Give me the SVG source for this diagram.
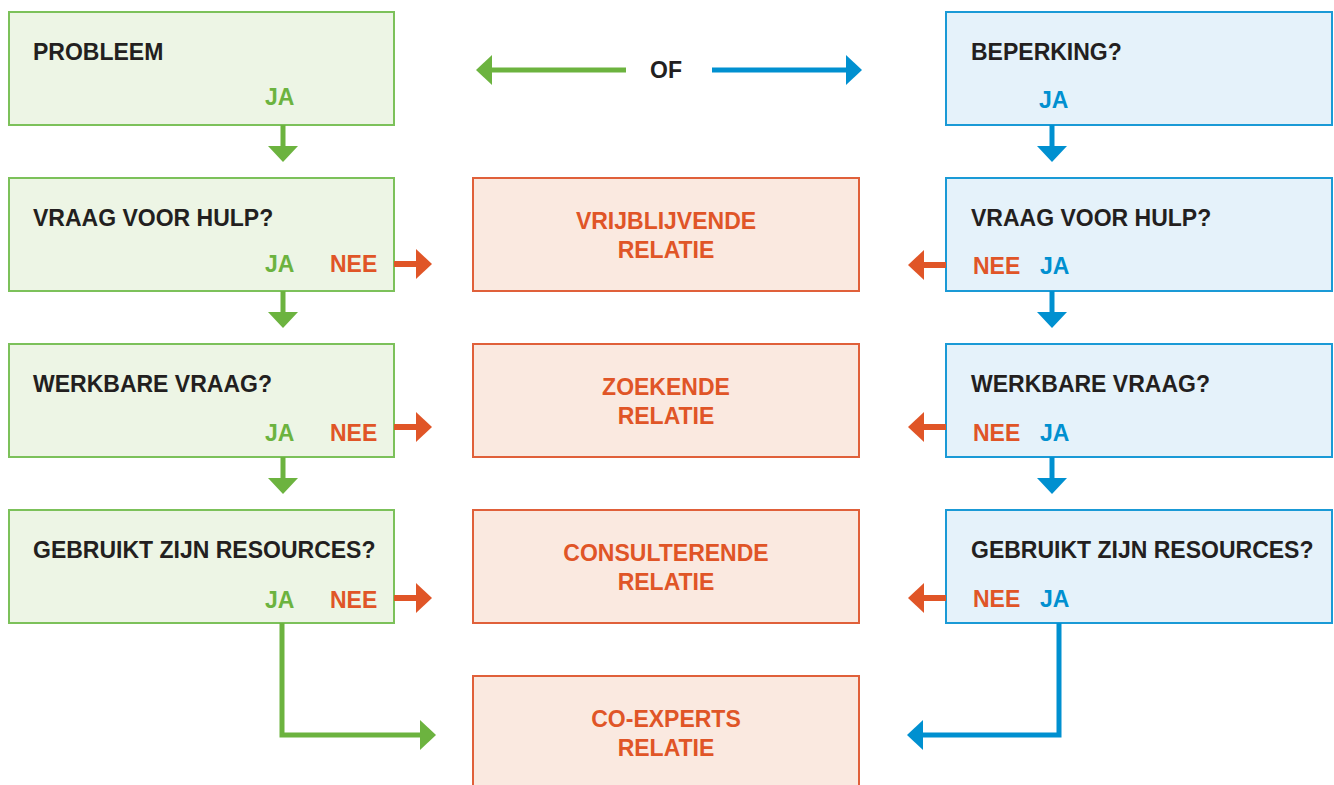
<svg xmlns="http://www.w3.org/2000/svg" width="1334" height="785" viewBox="0 0 1334 785">
<style>
text{font-family:"Liberation Sans",Arial,sans-serif;font-weight:bold;font-size:23px}
.g rect{fill:#edf5e5;stroke:#7cc15a;stroke-width:2}
.b rect{fill:#e5f2fa;stroke:#1a9ad6;stroke-width:2}
.o rect{fill:#fae9e0;stroke:#e0603a;stroke-width:2}
.t{fill:#231f20}
.gt{fill:#6cb33f}
.bt{fill:#0090d0}
.ot{fill:#e05527;text-anchor:middle}
.ont{fill:#e05527}
.gl{stroke:#6cb33f;stroke-width:5;fill:none}
.bl{stroke:#0090d0;stroke-width:5;fill:none}
.ol{stroke:#e05527;stroke-width:6;fill:none}
.gh{fill:#6cb33f}.bh{fill:#0090d0}.oh{fill:#e05527}
</style>
<g id="n-probleem" class="g"><rect x="9" y="12" width="385" height="113"/><text class="t" x="33" y="60">PROBLEEM</text><text class="gt" x="265" y="105">JA</text></g>
<g id="n-hulp-l" class="g"><rect x="9" y="178" width="385" height="113"/><text class="t" x="33" y="226">VRAAG VOOR HULP?</text><text class="gt" x="265" y="272">JA</text><text class="ont" x="330" y="272">NEE</text></g>
<g id="n-werk-l" class="g"><rect x="9" y="344" width="385" height="113"/><text class="t" x="33" y="392">WERKBARE VRAAG?</text><text class="gt" x="265" y="441">JA</text><text class="ont" x="330" y="441">NEE</text></g>
<g id="n-res-l" class="g"><rect x="9" y="510" width="385" height="113"/><text class="t" x="33" y="558">GEBRUIKT ZIJN RESOURCES?</text><text class="gt" x="265" y="608">JA</text><text class="ont" x="330" y="608">NEE</text></g>

<g id="n-beperking" class="b"><rect x="946" y="12" width="386" height="113"/><text class="t" x="971" y="60">BEPERKING?</text><text class="bt" x="1039" y="108">JA</text></g>
<g id="n-hulp-r" class="b"><rect x="946" y="178" width="386" height="113"/><text class="t" x="971" y="226">VRAAG VOOR HULP?</text><text class="ont" x="973" y="274">NEE</text><text class="bt" x="1040" y="274">JA</text></g>
<g id="n-werk-r" class="b"><rect x="946" y="344" width="386" height="113"/><text class="t" x="971" y="392">WERKBARE VRAAG?</text><text class="ont" x="973" y="441">NEE</text><text class="bt" x="1040" y="441">JA</text></g>
<g id="n-res-r" class="b"><rect x="946" y="510" width="386" height="113"/><text class="t" x="971" y="558">GEBRUIKT ZIJN RESOURCES?</text><text class="ont" x="973" y="607">NEE</text><text class="bt" x="1040" y="607">JA</text></g>

<g id="n-vrij" class="o"><rect x="473" y="178" width="386" height="113"/><text class="ot" x="666" y="229">VRIJBLIJVENDE</text><text class="ot" x="666" y="258">RELATIE</text></g>
<g id="n-zoek" class="o"><rect x="473" y="344" width="386" height="113"/><text class="ot" x="666" y="395">ZOEKENDE</text><text class="ot" x="666" y="424">RELATIE</text></g>
<g id="n-cons" class="o"><rect x="473" y="510" width="386" height="113"/><text class="ot" x="666" y="561">CONSULTERENDE</text><text class="ot" x="666" y="590">RELATIE</text></g>
<g id="n-coexp" class="o"><rect x="473" y="676" width="386" height="130"/><text class="ot" x="666" y="727">CO-EXPERTS</text><text class="ot" x="666" y="756">RELATIE</text></g>

<g id="of"><text class="t" x="666" y="78" text-anchor="middle">OF</text></g>

<g id="connectors">
<!-- OF arrows -->
<line class="gl" x1="626" y1="70" x2="490" y2="70"/><polygon class="gh" points="476,70 492,55 492,85"/>
<line class="bl" x1="712" y1="70" x2="847" y2="70"/><polygon class="bh" points="862,70 846,55 846,85"/>
<!-- left down arrows -->
<line class="gl" x1="283" y1="125" x2="283" y2="148"/><polygon class="gh" points="268,146 298,146 283,162"/>
<line class="gl" x1="283" y1="291" x2="283" y2="314"/><polygon class="gh" points="268,312 298,312 283,328"/>
<line class="gl" x1="283" y1="457" x2="283" y2="480"/><polygon class="gh" points="268,478 298,478 283,494"/>
<!-- right down arrows -->
<line class="bl" x1="1052" y1="125" x2="1052" y2="148"/><polygon class="bh" points="1037,146 1067,146 1052,162"/>
<line class="bl" x1="1052" y1="291" x2="1052" y2="314"/><polygon class="bh" points="1037,312 1067,312 1052,328"/>
<line class="bl" x1="1052" y1="457" x2="1052" y2="480"/><polygon class="bh" points="1037,478 1067,478 1052,494"/>
<!-- left NEE arrows -->
<line class="ol" x1="394" y1="264" x2="418" y2="264"/><polygon class="oh" points="432,264 416,249 416,279"/>
<line class="ol" x1="394" y1="427" x2="418" y2="427"/><polygon class="oh" points="432,427 416,412 416,442"/>
<line class="ol" x1="394" y1="598" x2="418" y2="598"/><polygon class="oh" points="432,598 416,583 416,613"/>
<!-- right NEE arrows -->
<line class="ol" x1="946" y1="265" x2="922" y2="265"/><polygon class="oh" points="908,265 924,250 924,280"/>
<line class="ol" x1="946" y1="427" x2="922" y2="427"/><polygon class="oh" points="908,427 924,412 924,442"/>
<line class="ol" x1="946" y1="598" x2="922" y2="598"/><polygon class="oh" points="908,598 924,583 924,613"/>
<!-- bottom elbows -->
<polyline class="gl" points="282,623 282,735 422,735"/><polygon class="gh" points="436,735 420,720 420,750"/>
<polyline class="bl" points="1059,623 1059,735 921,735"/><polygon class="bh" points="907,735 923,720 923,750"/>
</g>
</svg>
